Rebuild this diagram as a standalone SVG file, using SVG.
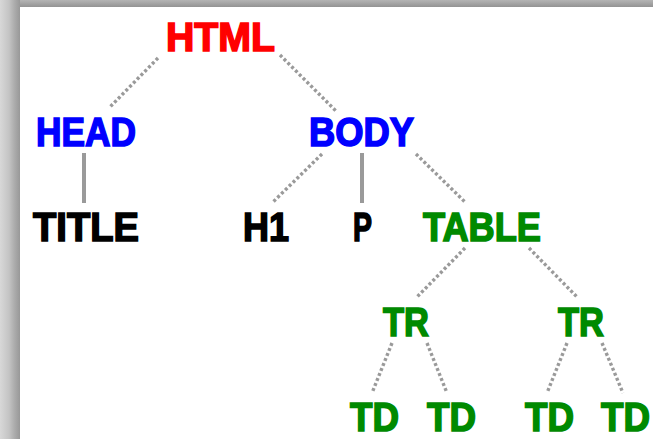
<svg xmlns="http://www.w3.org/2000/svg" width="653" height="439" viewBox="0 0 653 439">
<defs>
<linearGradient id="lg" x1="0" y1="0" x2="1" y2="0">
<stop offset="0" stop-color="#d8d8d8"/><stop offset="0.45" stop-color="#c4c4c4"/><stop offset="0.7" stop-color="#aeaeae"/><stop offset="1" stop-color="#989898"/>
</linearGradient>
<linearGradient id="tg" x1="0" y1="0" x2="0" y2="1">
<stop offset="0" stop-color="#b4b4b4"/><stop offset="1" stop-color="#939393"/>
</linearGradient>
<style>
text{font-family:"Liberation Sans",Arial,sans-serif;font-weight:bold;font-size:40px;stroke-width:1.6;stroke-linejoin:miter}
.r{fill:#ff0000;stroke:#ff0000}.b{fill:#0000ff;stroke:#0000ff}.k{fill:#000000;stroke:#000000}.g{fill:#008a00;stroke:#008a00}
.c line{stroke:#9a9a9a;stroke-width:3.4;stroke-dasharray:3 2.4}
.c line.s{stroke-dasharray:none;stroke-width:4}
</style>
</defs>
<rect width="653" height="439" fill="#ffffff"/>
<rect x="0" y="0" width="653" height="7" fill="url(#tg)"/>
<rect x="0" y="0" width="20" height="439" fill="url(#lg)"/>
<g class="c" id="connectors">
<line x1="158" y1="58" x2="109" y2="108"/>
<line x1="280" y1="55" x2="337" y2="112"/>
<line class="s" x1="84" y1="153" x2="84" y2="203"/>
<line x1="322" y1="154" x2="273" y2="202"/>
<line class="s" x1="362" y1="153" x2="362" y2="203"/>
<line x1="416" y1="154" x2="465" y2="202"/>
<line x1="465" y1="248" x2="416" y2="298"/>
<line x1="529" y1="248" x2="578" y2="298"/>
<line x1="392" y1="343" x2="372" y2="393"/>
<line x1="427" y1="343" x2="447" y2="393"/>
<line x1="567" y1="343" x2="547" y2="393"/>
<line x1="602" y1="343" x2="623" y2="393"/>
</g>
<g id="html"><text class="r" x="166" y="51" textLength="109" lengthAdjust="spacingAndGlyphs">HTML</text></g>
<g id="head"><text class="b" x="36" y="146" textLength="100" lengthAdjust="spacingAndGlyphs">HEAD</text></g>
<g id="body"><text class="b" x="309" y="146" textLength="105" lengthAdjust="spacingAndGlyphs">BODY</text></g>
<g id="title"><text class="k" x="33" y="241" textLength="106" lengthAdjust="spacingAndGlyphs">TITLE</text></g>
<g id="h1"><text class="k" x="243" y="241" textLength="46" lengthAdjust="spacingAndGlyphs">H1</text></g>
<g id="p"><text class="k" x="353" y="241" textLength="19" lengthAdjust="spacingAndGlyphs">P</text></g>
<g id="table"><text class="g" x="423" y="241" textLength="118" lengthAdjust="spacingAndGlyphs">TABLE</text></g>
<g id="tr1"><text class="g" x="383" y="336" textLength="46" lengthAdjust="spacingAndGlyphs">TR</text></g>
<g id="tr2"><text class="g" x="558" y="336" textLength="46" lengthAdjust="spacingAndGlyphs">TR</text></g>
<g id="td1"><text class="g" x="350" y="431" textLength="49" lengthAdjust="spacingAndGlyphs">TD</text></g>
<g id="td2"><text class="g" x="427" y="431" textLength="49" lengthAdjust="spacingAndGlyphs">TD</text></g>
<g id="td3"><text class="g" x="525" y="431" textLength="49" lengthAdjust="spacingAndGlyphs">TD</text></g>
<g id="td4"><text class="g" x="601" y="431" textLength="49" lengthAdjust="spacingAndGlyphs">TD</text></g>
</svg>
